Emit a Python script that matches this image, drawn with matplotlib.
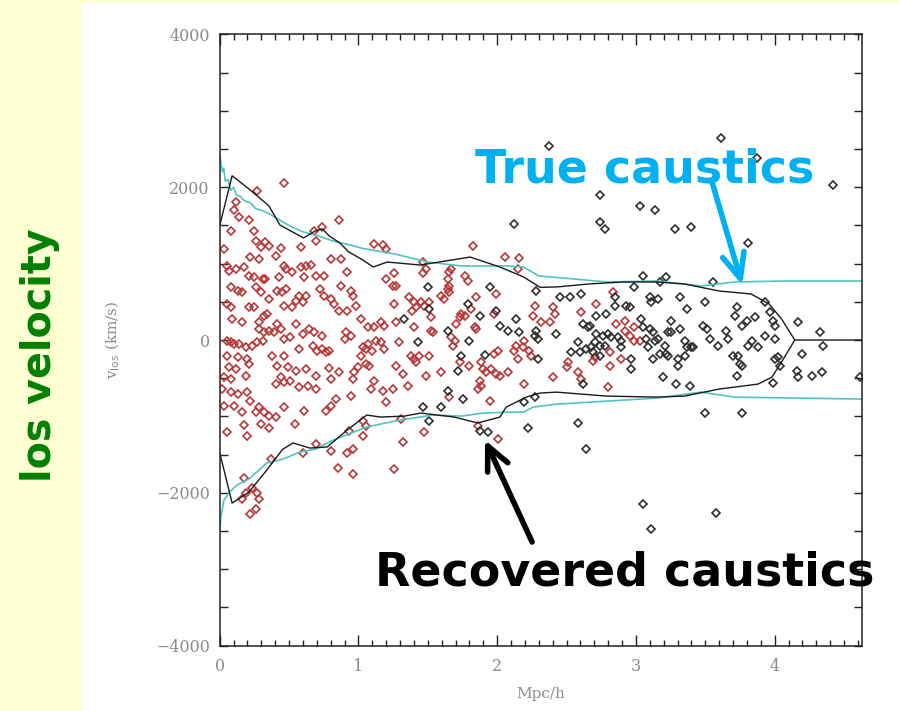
import matplotlib
matplotlib.use("Agg")
import matplotlib.pyplot as plt
from matplotlib.patches import Rectangle

# ---------------- data ----------------
red_x = [0.465, 0.27, 0.86, 0.115, 0.10, 0.14, 0.21, 0.08, 0.25, 0.26, 0.33, 0.30, 0.355, 0.44, 0.03,
         0.22, 0.285, 0.405, 0.585, 0.695, 0.74, 0.68, 0.80, 0.875, 0.055, 0.07, 0.115, 0.175, 0.21,
         0.25, 0.31, 0.33, 0.43, 0.465, 0.475, 0.525, 0.585, 0.62, 0.66, 0.61, 0.695, 0.755, 0.92,
         0.08, 0.13, 0.16, 0.26, 0.30, 0.415, 0.45, 0.475, 0.575, 0.62, 0.72, 0.755, 0.80, 0.875,
         0.945, 0.96, 0.055, 0.08, 0.21, 0.25, 0.355, 0.32, 0.465, 0.525, 0.55, 0.60, 0.825, 0.86,
         0.92, 0.98, 0.09, 0.16, 0.285, 0.345, 0.415, 0.55, 0.285, 0.32, 0.355, 0.39, 0.44, 0.465,
         0.51, 0.60, 0.645, 0.68, 0.74, 0.055, 0.08, 0.10, 0.14, 0.19, 0.235, 0.27, 0.31, 0.575,
         0.67, 0.705, 0.74, 0.765, 0.79, 0.91, 0.945, 0.90, 1.03, 0.055, 0.13, 0.20, 0.21, 0.07,
         0.115, 0.03, 0.08, 0.19, 0.38, 0.465, 0.415, 0.49, 0.55, 0.62, 0.44, 0.405, 0.465, 0.51,
         0.575, 0.635, 0.695, 0.695, 0.79, 0.80, 0.86, 0.97, 0.995, 0.96, 0.02, 0.08, 0.13, 0.20,
         0.22, 0.285, 0.32, 0.355, 0.405, 0.26, 0.03, 0.10, 0.16, 0.30, 0.355, 0.465, 0.54, 0.61,
         0.765, 0.80, 0.84, 0.945, 0.175, 0.055, 0.20, 0.60, 0.695, 0.80, 0.85, 0.92, 0.96, 0.96,
         0.935, 0.37, 0.175, 0.235, 0.19, 0.27, 0.285, 0.16, 0.26, 0.22,
         1.114, 1.175, 1.20, 1.825, 2.054, 1.464, 1.488, 1.464, 1.668, 1.656, 1.765, 1.79, 1.26,
         1.20, 1.247, 1.27, 1.644, 1.656, 1.644, 1.656, 1.596, 1.62, 1.994, 1.26, 1.367, 1.403,
         1.415, 1.45, 1.476, 1.512, 1.39, 1.813, 1.85, 1.74, 1.765, 1.729, 1.98, 1.27, 1.524, 1.02,
         1.066, 1.114, 1.16, 1.186, 1.403, 1.524, 1.536, 1.705, 1.837, 1.85, 1.066, 1.054, 1.096,
         1.126, 1.16, 1.186, 1.295, 1.668, 1.693, 1.68, 1.02, 1.054, 1.08, 1.27, 1.32, 1.38, 1.403,
         1.415, 1.44, 1.512, 1.98, 2.006, 1.729, 1.80, 1.886, 1.90, 1.92, 1.958, 1.994, 2.018,
         2.078, 1.488, 1.596, 1.114, 1.09, 1.175, 1.247, 1.355, 1.873, 1.886, 1.862, 1.656, 1.946,
         1.20, 1.03, 1.054, 1.03, 1.307, 1.476, 1.862, 2.006, 1.32, 1.26,
         2.16, 2.15, 2.835, 2.27, 2.257, 2.40, 2.414, 2.378, 2.318, 2.715, 2.606, 2.92, 2.99, 2.86,
         2.92, 2.955, 2.99, 3.028, 2.137, 2.197, 2.185, 2.125, 2.233, 2.245, 2.15, 2.197, 2.40,
         2.703, 2.811, 2.69, 2.895, 2.811, 2.50, 2.51, 2.582, 2.606, 2.80]
red_y = [2058, 1949, 1573, 1805, 1696, 1608, 1565, 1433, 1433, 1302, 1280, 1215, 1228, 1202, 1193,
         1084, 1062, 1097, 1215, 1302, 1477, 1433, 1062, 1062, 975, 909, 931, 953, 844,
         822, 800, 800, 822, 975, 931, 887, 953, 975, 983, 822, 844, 844, 887,
         691, 647, 625, 691, 625, 647, 625, 669, 581, 581, 669, 581, 538, 712,
         647, 581, 472, 428, 428, 428, 538, 319, 450, 428, 516, 494, 472, 385,
         385, 450, 275, 232, 232, 341, 210, 210, 144, 101, 122, 101, 144, 13,
         35, 79, 144, 101, 57, -9, -31, -52, -52, -96, -74, -22, -9, -118,
         -74, -140, -118, -162, -140, 101, 57, 13, -96, -205, -227, -249, -315, -358,
         -380, -490, -511, -468, -205, -205, -336, -358, -402, -380, -490, -577, -555, -533,
         -620, -599, -642, -468, -371, -511, -424, -424, -358, -511, -642, -686, -708, -686,
         -795, -883, -948, -992, -1014, -948, -861, -861, -948, -1101, -1145, -883, -1101, -926,
         -926, -861, -773, -730, -1114, -1210, -1254, -1473, -1363, -1451, -1669, -1473, -1757, -1429,
         -1189, -1551, -1800, -1931, -1997, -1997, -2084, -2084, -2216, -2281,
         1259, 1246, 1193, 1228, 1084, 1018, 931, 878, 931, 887, 844, 778, 874,
         800, 712, 712, 800, 712, 669, 625, 581, 538, 603, 472, 560, 494,
         428, 494, 450, 494, 385, 407, 560, 341, 319, 297, 341, 232, 297, 275,
         166, 166, 232, 188, 166, 122, 101, 210, 166, 144, -52, -118, -140,
         -9, -31, -118, -31, 35, -9, -74, -205, -315, -336, -336, -446, -205, -249,
         -293, -205, -205, -183, -140, -293, -336, -293, -380, -424, -380, -446, -468,
         -424, -468, -424, -533, -642, -664, -642, -599, -533, -599, -642, -752, -795,
         -817, -1058, -1123, -1254, -1036, -1210, -1123, -1298, -1341, -1691,
         1071, 931, 625, 450, 319, 428, 341, 232, 232, 472, 363, 254, 166, 210,
         122, 57, -9, -9, -74, -9, -96, -140, -140, -205, -249, -577, -490,
         -227, -162, -271, -249, -336, -358, -293, -424, -511, -620]

black_x = [1.50, 1.946, 1.512, 1.79, 1.873, 1.994, 1.33, 1.644, 2.018, 2.078, 1.428, 1.80, 1.74,
           1.91, 1.717, 1.644, 1.753, 1.464, 1.596, 1.512, 1.873, 1.934,
           2.74, 3.028, 3.136, 2.125, 2.74, 2.775, 3.052, 2.28, 2.99, 2.45, 2.522, 2.606, 2.847,
           2.93, 2.955, 2.847, 2.715, 2.787, 3.10, 3.112, 3.04, 3.052, 3.10, 3.124, 3.076, 3.136,
           3.088, 2.137, 2.16, 2.28, 2.27, 2.294, 2.426, 2.618, 2.667, 2.655, 2.715, 2.763, 2.80,
           2.823, 2.871, 2.895, 2.703, 2.74, 2.775, 2.294, 2.582, 2.534, 2.594, 2.643, 2.68, 2.69,
           2.74, 2.895, 2.967, 2.967, 3.124, 2.618, 2.197, 2.27, 2.22, 2.582, 2.643, 3.052, 3.112,
           2.375,
           3.617, 3.87, 4.424, 3.28, 3.40, 3.81, 3.22, 3.172, 3.557, 3.316, 3.365, 3.497, 3.726,
           3.714, 3.762, 3.798, 3.858, 3.93, 3.966, 3.99, 4.002, 3.93, 4.002, 3.256, 3.232, 3.256,
           3.316, 3.208, 3.172, 3.22, 3.232, 3.352, 3.365, 3.413, 3.40, 3.304, 3.352, 3.304, 3.196,
           3.292, 3.389, 3.485, 3.509, 3.533, 3.593, 3.653, 3.665, 3.702, 3.738, 3.75, 3.762, 3.81,
           3.834, 3.882, 3.726, 4.002, 4.026, 4.039, 3.99, 4.171, 4.327, 4.352, 4.195, 4.159, 4.171,
           4.267, 4.34, 3.497, 3.762, 3.581, 4.616, 3.16, 3.16]
black_y = [691, 691, 407, 472, 319, 385, 275, 122, 188, 122, -22, -9, -205,
           -197, -402, -664, -773, -883, -883, -1058, -1189, -1210,
           1901, 1761, 1696, 1521, 1543, 1455, 844, 647, 691, 560, 560, 603, 560,
           450, 428, 450, 319, 341, 560, 494, 275, 166, 144, 101, 13, -9,
           -96, 275, 101, 122, 57, 13, 79, 210, 188, 166, 79, 57, 79,
           35, 35, -9, -31, -74, -74, -249, -31, -162, -162, -118, -96, -162,
           -205, -96, -249, -380, -249, -577, -817, -752, -1145, -1080, -1429, -2150, -2478,
           2543,
           2643, 2381, 2032, 1455, 1477, 1271, 821, 764, 764, 559, 406, 493, 428,
           318, 187, 253, 297, 493, 362, 253, 187, 56, 12, 253, 100, 100,
           144, -75, -184, -184, -206, -9, -97, -97, -90, -250, -206, -337, -490,
           -577, -599, 187, 144, 12, -75, 122, 12, -206, -206, -315, -337, -75,
           -9, -97, -468, -250, -228, -337, -556, 231, 110, -75, -184, -403, -490,
           -468, -424, -949, -949, -2260, -490, 537, 12]

rec_up_x = [0, 0.09, 0.21, 0.355, 0.435, 0.605, 0.69, 0.74, 0.79, 0.867, 0.93, 1.03, 1.107, 1.208,
            1.446, 1.806, 2.02, 2.19, 2.31, 2.43, 2.66, 2.91, 3.15, 3.35, 3.6, 3.83, 3.96, 4.05,
            4.145, 4.63]
rec_up_y = [1494, 2150, 1980, 1757, 1505, 1337, 1429, 1455, 1363, 1270, 1154, 1050, 956, 1021,
            982, 1086, 956, 826, 690, 695, 734, 760, 760, 734, 642, 603, 472, 275,
            0, 0]
rec_lo_x = [0, 0.09, 0.21, 0.34, 0.455, 0.53, 0.65, 0.775, 0.92, 1.06, 1.16, 1.33, 1.45, 1.69,
            1.86, 2.02, 2.065, 2.21, 2.31, 2.43, 2.79, 3.15, 3.35, 3.6, 3.88, 3.98, 4.05, 4.145]
rec_lo_y = [-1468, -2134, -1993, -1702, -1429, -1348, -1414, -1400, -1178, -982, -1008, -996,
            -956, -1008, -1086, -1008, -878, -747, -694, -682, -734, -747, -734, -642, -577,
            -485, -288, 0]

true_up_x = [0.0, 0.01, 0.02, 0.03, 0.04, 0.06, 0.08, 0.10, 0.12, 0.15, 0.18, 0.22, 0.26, 0.30,
             0.35, 0.455, 0.52, 0.60, 0.69, 0.815, 0.93, 1.03, 1.26, 1.5, 1.74, 2.08, 2.19, 2.30,
             2.55, 2.79, 3.15, 3.47, 3.71, 4.07, 4.63]
true_up_y = [2465, 2300, 2200, 2250, 2080, 2100, 1960, 2000, 1900, 1880, 1820, 1800, 1720, 1700,
             1660, 1547, 1480, 1416, 1377, 1298, 1250, 1200, 1127, 1022, 970, 970, 957, 839,
             800, 760, 773, 708, 760, 773, 773]
true_lo_x = [0.0, 0.01, 0.02, 0.03, 0.05, 0.07, 0.09, 0.115, 0.15, 0.21, 0.34, 0.455, 0.58, 0.69,
             0.82, 1.06, 1.3, 1.54, 1.74, 1.9, 2.08, 2.19, 2.26, 2.43, 2.79, 3.15, 3.47, 3.71, 4.63]
true_lo_y = [-2500, -2300, -2215, -2100, -2050, -1990, -1960, -1914, -1872, -1822, -1610, -1560,
             -1466, -1429, -1309, -1139, -1047, -982, -996, -956, -944, -944, -877, -839, -800,
             -760, -682, -747, -773]

x_ticks = [0, 1, 2, 3, 4]
y_ticks = [-4000, -2000, 0, 2000, 4000]

# ---------------- figure ----------------
fig = plt.figure(figsize=(8.99, 7.11), dpi=100, facecolor="#FFFFD4")
fig.add_artist(Rectangle((82 / 899, 0), 1 - 82 / 899, 1 - 3 / 711, transform=fig.transFigure,
                         facecolor="white", edgecolor="none", zorder=0))

ax = fig.add_axes([0.2443, 0.092, 0.7146, 0.8595])
ax.set_facecolor("white")
ax.set_xlim(0, 4.63)
ax.set_ylim(-4000, 4000)

ax.plot(red_x, red_y, linestyle="none", marker="D", mfc="none", mec="#B83838", ms=4.5, mew=1.2)
ax.plot(black_x, black_y, linestyle="none", marker="D", mfc="none", mec="#2E2E2E", ms=4.5, mew=1.2)
ax.plot(true_up_x, true_up_y, color="#52C3C3", lw=1.2)
ax.plot(true_lo_x, true_lo_y, color="#52C3C3", lw=1.2)
ax.plot(rec_up_x, rec_up_y, color="#1A1A1A", lw=1.0)
ax.plot(rec_lo_x, rec_lo_y, color="#1A1A1A", lw=1.0)

ax.set_xticks(x_ticks)
ax.set_yticks(y_ticks)
ax.set_xticks([i / 10 for i in range(0, 47)], minor=True)
ax.set_yticks(list(range(-4000, 4001, 500)), minor=True)
ax.tick_params(which="both", direction="in", top=True, right=True, width=1.0, color="#222222")
ax.tick_params(axis="x", which="major", length=8, pad=9)
ax.tick_params(axis="x", which="minor", length=4.3)
ax.tick_params(axis="y", which="both", length=5.8, pad=7)
for lab in ax.get_xticklabels() + ax.get_yticklabels():
    lab.set_family("DejaVu Serif")
    lab.set_fontsize(11.5)
    lab.set_color("#8C8C8C")
for sp in ax.spines.values():
    sp.set_linewidth(1.1)
    sp.set_color("#222222")

ax.set_xlabel("Mpc/h", family="DejaVu Serif", fontsize=11, color="#8C8C8C")
ax.xaxis.set_label_coords(0.5, -0.068)
plt.rcParams["mathtext.fontset"] = "dejavuserif"
ax.set_ylabel(r"v$_{\rm los}$ (km/s)", family="DejaVu Serif", fontsize=11, color="#8C8C8C")
ax.yaxis.set_label_coords(-0.152, 0.5)

# annotations
ax.text(1.841, 2068, "True caustics", color="#00B0F0", fontsize=33, fontweight="bold",
        family="DejaVu Sans", ha="left", va="baseline", clip_on=False, zorder=5)
ax.text(1.12, -3207, "Recovered caustics", color="black", fontsize=33, fontweight="bold",
        family="DejaVu Sans", ha="left", va="baseline", clip_on=False, zorder=5)
ax.annotate("", xy=(3.767, 720), xytext=(3.549, 2068),
            arrowprops=dict(arrowstyle="->,head_length=1.8,head_width=0.8", color="#00B0F0",
                            lw=4, shrinkA=0, shrinkB=0), annotation_clip=False)
ax.annotate("", xy=(1.913, -1309), xytext=(2.252, -2644),
            arrowprops=dict(arrowstyle="->,head_length=1.7,head_width=0.8", color="black",
                            lw=4, shrinkA=0, shrinkB=0), annotation_clip=False)

fig.text(40 / 899, 1 - 355 / 711, "los velocity", rotation=90, color="#008000", fontsize=28.5,
         fontweight="bold", family="DejaVu Sans", ha="center", va="center")

fig.savefig("out.png", dpi=100, facecolor=fig.get_facecolor())
